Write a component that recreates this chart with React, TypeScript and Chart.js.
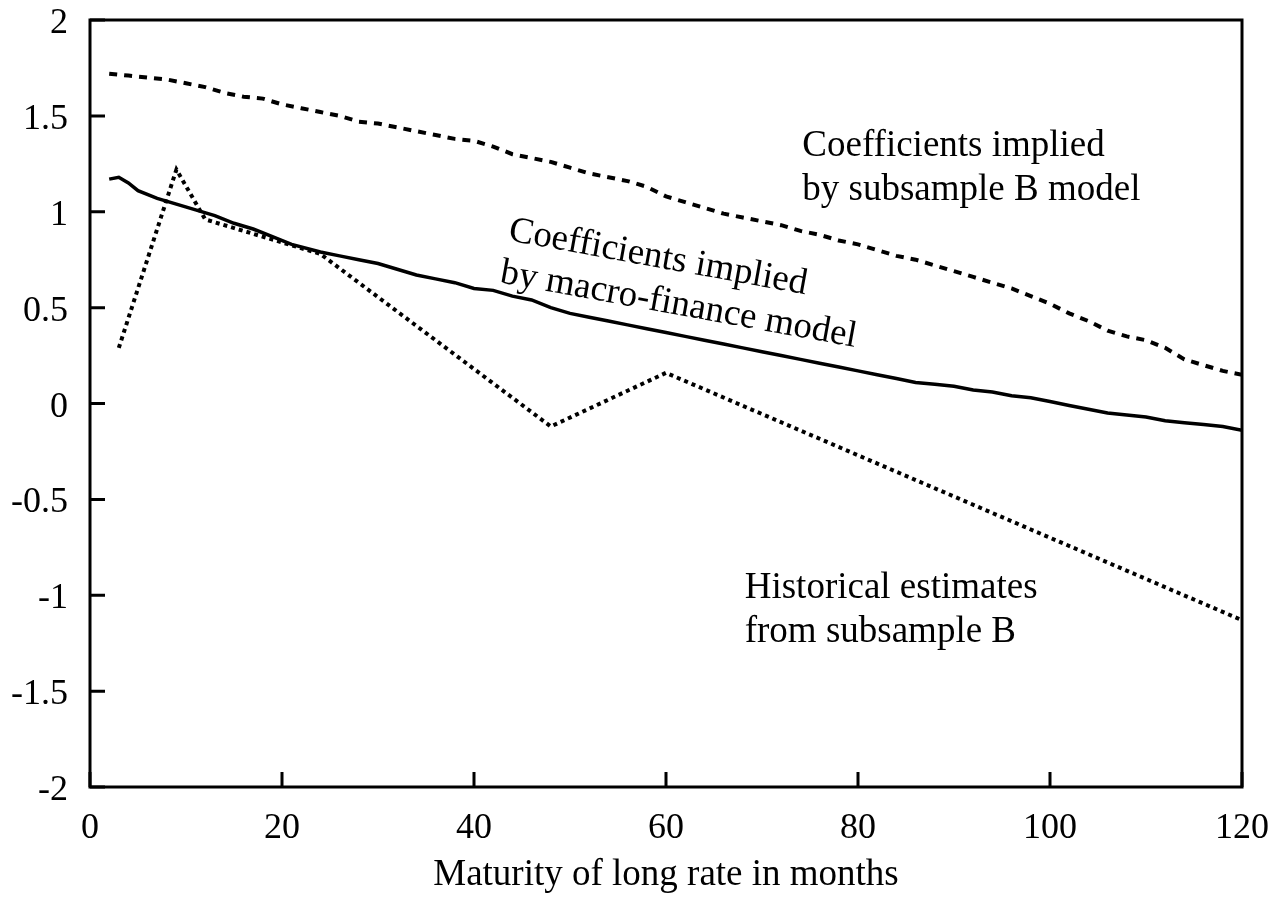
import React, { useEffect, useRef } from "react";
import { Chart, registerables } from "chart.js";

Chart.register(...registerables);

const FONT = "'Liberation Serif', 'Times New Roman', serif";

// Coefficients implied by macro-finance model (solid)
const macroMonths = [2, 3, 4, 5, 7, 9, 11, 13, 15, 17, 19, 21, 24, 26, 28, 30, 32, 34, 36, 38, 40, 42, 44, 46, 48, 50, 52, 54, 56, 58, 60, 62, 64, 66, 68, 70, 72, 74, 76, 78, 80, 82, 84, 86, 88, 90, 92, 94, 96, 98, 100, 102, 104, 106, 108, 110, 112, 114, 116, 118, 120];
const macroValues = [1.17, 1.18, 1.15, 1.11, 1.07, 1.04, 1.01, 0.98, 0.94, 0.91, 0.87, 0.83, 0.79, 0.77, 0.75, 0.73, 0.7, 0.67, 0.65, 0.63, 0.6, 0.59, 0.56, 0.54, 0.5, 0.47, 0.45, 0.43, 0.41, 0.39, 0.37, 0.35, 0.33, 0.31, 0.29, 0.27, 0.25, 0.23, 0.21, 0.19, 0.17, 0.15, 0.13, 0.11, 0.1, 0.09, 0.07, 0.06, 0.04, 0.03, 0.01, -0.01, -0.03, -0.05, -0.06, -0.07, -0.09, -0.1, -0.11, -0.12, -0.14];

// Coefficients implied by subsample B model (dashed)
const modelBMonths = [2, 4, 6, 8, 10, 12, 14, 16, 18, 20, 22, 24, 26, 28, 30, 32, 34, 36, 38, 40, 42, 44, 46, 48, 50, 52, 54, 56, 58, 60, 62, 64, 66, 68, 70, 72, 74, 76, 78, 80, 82, 84, 86, 88, 90, 92, 94, 96, 98, 100, 102, 104, 106, 108, 110, 112, 114, 116, 118, 120];
const modelBValues = [1.72, 1.71, 1.7, 1.69, 1.67, 1.65, 1.62, 1.6, 1.59, 1.56, 1.54, 1.52, 1.5, 1.47, 1.46, 1.44, 1.42, 1.4, 1.38, 1.37, 1.34, 1.3, 1.28, 1.26, 1.23, 1.2, 1.18, 1.16, 1.13, 1.08, 1.05, 1.02, 0.99, 0.97, 0.95, 0.93, 0.9, 0.88, 0.85, 0.83, 0.8, 0.77, 0.75, 0.72, 0.69, 0.66, 0.63, 0.6, 0.56, 0.52, 0.47, 0.43, 0.38, 0.35, 0.33, 0.29, 0.23, 0.2, 0.17, 0.15];

// Historical estimates from subsample B (dotted)
const histMonths = [3, 9, 12, 24, 48, 60, 120];
const histValues = [0.29, 1.22, 0.96, 0.78, -0.12, 0.16, -1.13];

const xTicks = [0, 20, 40, 60, 80, 100, 120];
const yTicks = [-2, -1.5, -1, -0.5, 0, 0.5, 1, 1.5, 2];
const xTickLabels = ["0", "20", "40", "60", "80", "100", "120"];
const yTickLabels = ["-2", "-1.5", "-1", "-0.5", "0", "0.5", "1", "1.5", "2"];
const xTitle = "Maturity of long rate in months";
const labelModelB = ["Coefficients implied", "by subsample B model"];
const labelHist = ["Historical estimates", "from subsample B"];
const labelMacro = ["Coefficients implied", "by macro-finance model"];

const toPoints = (xs: number[], ys: number[]) => xs.map((x, i) => ({ x, y: ys[i] }));

const framePlugin = {
  id: "frameAndNotes",
  afterDatasetsDraw(chart: any) {
    const { ctx, chartArea: a, scales } = chart;
    const x = scales.x;
    const y = scales.y;
    ctx.save();
    ctx.strokeStyle = "#000";
    ctx.lineWidth = 3;
    ctx.strokeRect(a.left, a.top, a.right - a.left, a.bottom - a.top);
    ctx.beginPath();
    for (const v of yTicks) {
      const py = y.getPixelForValue(v);
      ctx.moveTo(a.left, py);
      ctx.lineTo(a.left + 15, py);
    }
    for (const v of xTicks) {
      const px = x.getPixelForValue(v);
      ctx.moveTo(px, a.bottom);
      ctx.lineTo(px, a.bottom - 15);
    }
    ctx.stroke();

    ctx.fillStyle = "#000";
    ctx.textBaseline = "alphabetic";

    // tick labels placed through the scales
    ctx.font = `36px ${FONT}`;
    ctx.textAlign = "right";
    yTicks.forEach((v, i) => {
      ctx.fillText(yTickLabels[i], a.left - 22, y.getPixelForValue(v) + 13);
    });
    ctx.textAlign = "center";
    xTicks.forEach((v, i) => {
      ctx.fillText(xTickLabels[i], x.getPixelForValue(v), a.bottom + 51);
    });

    ctx.font = `37px ${FONT}`;
    ctx.textAlign = "left";
    // subsample B model note
    let px = x.getPixelForValue(74.2);
    let py = y.getPixelForValue(1.29);
    ctx.fillText(labelModelB[0], px, py);
    ctx.fillText(labelModelB[1], px, py + 44);
    // historical note
    px = x.getPixelForValue(68.2);
    py = y.getPixelForValue(-1.014);
    ctx.fillText(labelHist[0], px, py);
    ctx.fillText(labelHist[1], px, py + 44);
    // rotated macro-finance note
    px = x.getPixelForValue(43.5);
    py = y.getPixelForValue(0.852);
    ctx.save();
    ctx.translate(px, py);
    ctx.rotate((10.3 * Math.PI) / 180);
    ctx.fillText(labelMacro[0], 0, 0);
    ctx.fillText(labelMacro[1], -1, 43);
    ctx.restore();

    // x-axis title
    ctx.font = `37px ${FONT}`;
    ctx.textAlign = "center";
    ctx.fillText(xTitle, (a.left + a.right) / 2, a.bottom + 98);
    ctx.restore();
  },
};

export default function App() {
  const ref = useRef<HTMLCanvasElement | null>(null);
  useEffect(() => {
    if (!ref.current) return;
    const chart = new Chart(ref.current, {
      type: "line",
      data: {
        datasets: [
          {
            label: "Coefficients implied by subsample B model",
            data: toPoints(modelBMonths, modelBValues),
            borderColor: "#000",
            borderWidth: 4,
            borderDash: [8, 7],
            pointRadius: 0,
            fill: false,
            tension: 0,
          },
          {
            label: "Coefficients implied by macro-finance model",
            data: toPoints(macroMonths, macroValues),
            borderColor: "#000",
            borderWidth: 3.5,
            pointRadius: 0,
            fill: false,
            tension: 0,
          },
          {
            label: "Historical estimates from subsample B",
            data: toPoints(histMonths, histValues),
            borderColor: "#000",
            borderWidth: 4,
            borderDash: [4, 4],
            pointRadius: 0,
            fill: false,
            tension: 0,
          },
        ],
      },
      options: {
        responsive: false,
        animation: false,
        layout: { padding: { top: 20, right: 37, left: 0, bottom: 0 } },
        plugins: { legend: { display: false }, tooltip: { enabled: false }, title: { display: false } },
        scales: {
          x: {
            type: "linear",
            min: 0,
            max: 120,
            grid: { display: false, drawTicks: false },
            border: { display: false },
            ticks: { display: false, stepSize: 20 },
            afterFit: (s: any) => {
              s.height = 110;
            },
          },
          y: {
            type: "linear",
            min: -2,
            max: 2,
            grid: { display: false, drawTicks: false },
            border: { display: false },
            ticks: { display: false, stepSize: 0.5 },
            afterFit: (s: any) => {
              s.width = 90;
            },
          },
        },
      },
      plugins: [framePlugin],
    });
    return () => chart.destroy();
  }, []);
  return (
    <div style={{ position: "absolute", left: 0, top: 0, width: 1279, height: 897, background: "#fff" }}>
      <canvas ref={ref} width={1279} height={897} style={{ display: "block" }} />
    </div>
  );
}
